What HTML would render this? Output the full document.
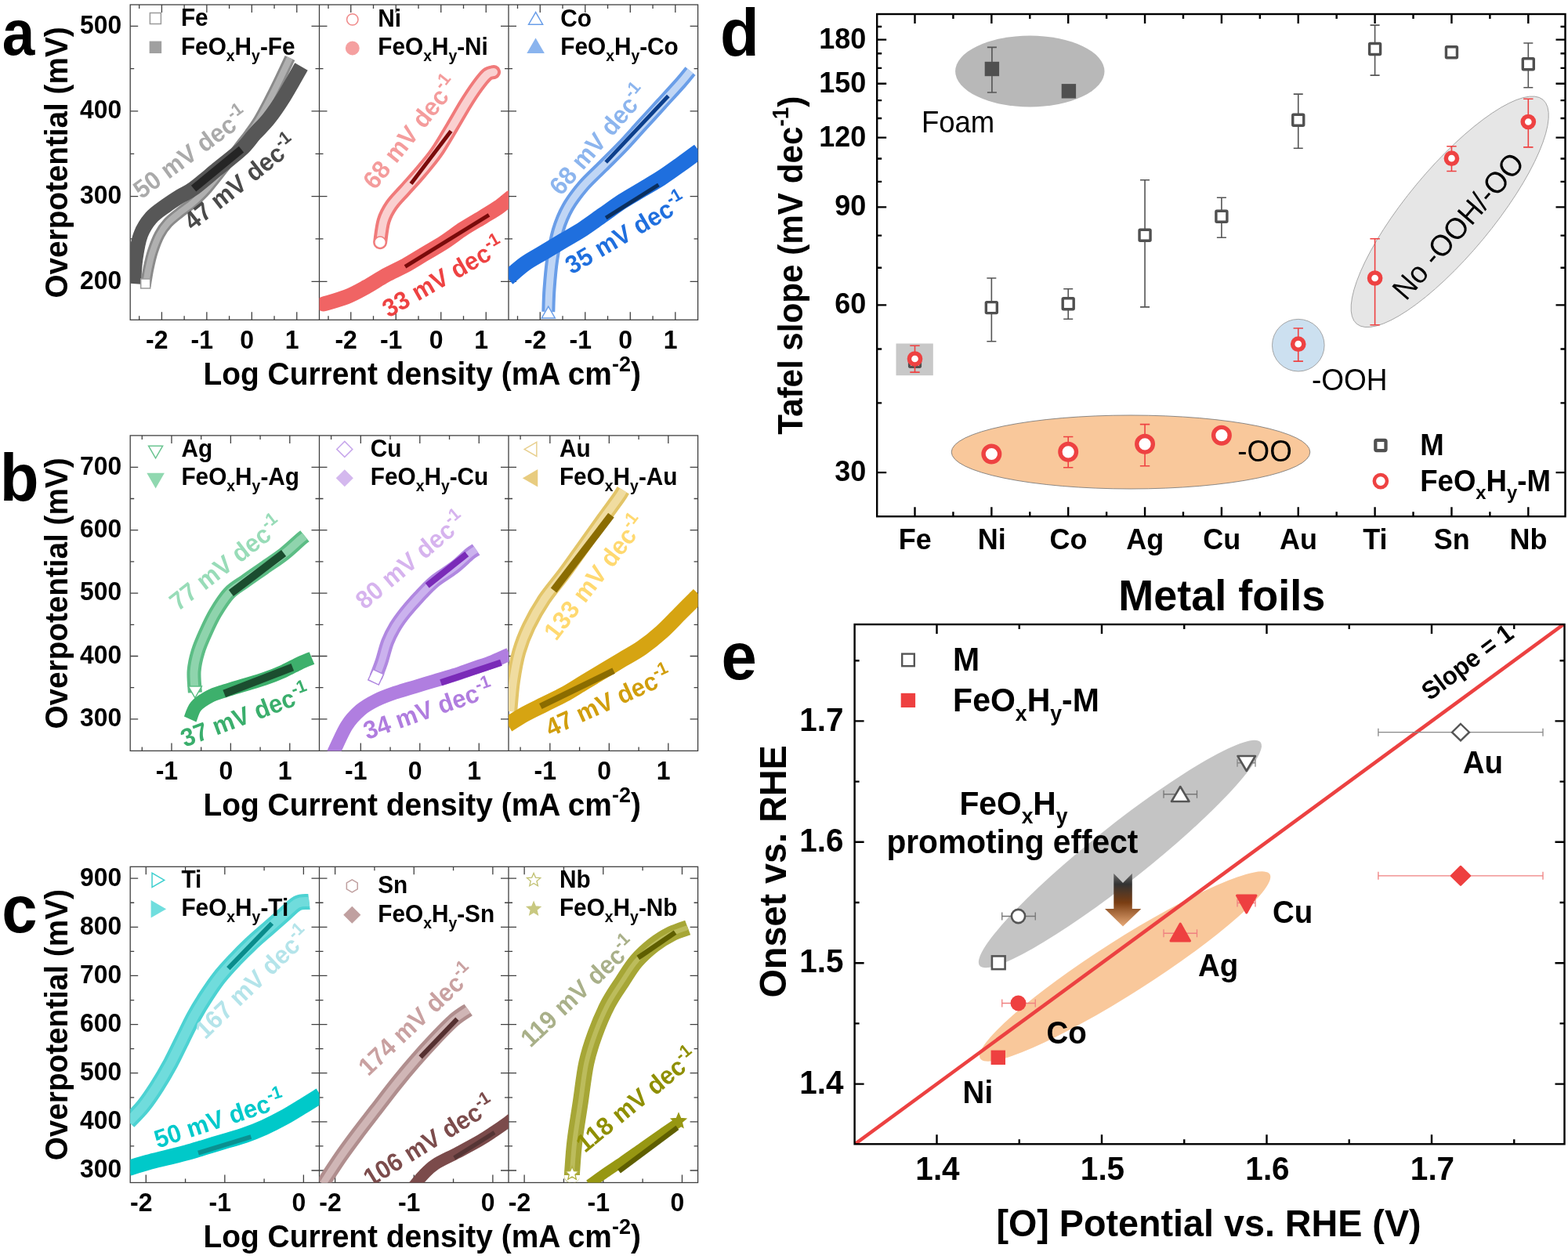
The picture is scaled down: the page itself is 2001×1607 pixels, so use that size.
<!DOCTYPE html>
<html><head><meta charset="utf-8"><style>
html,body{margin:0;padding:0;background:#fff;}
svg{display:block;font-family:'Liberation Sans', Arial, Helvetica, sans-serif;}
</style></head><body>
<svg xmlns="http://www.w3.org/2000/svg" width="2001" height="1607" viewBox="0 0 2001 1607">
<defs><clipPath id="c00"><rect x="166.2" y="6" width="241.3" height="402.3"/></clipPath><clipPath id="c01"><rect x="407.5" y="6" width="241.5" height="402.3"/></clipPath><clipPath id="c02"><rect x="649" y="6" width="241.6" height="402.3"/></clipPath><clipPath id="c10"><rect x="166.2" y="555.9" width="241.3" height="402.5"/></clipPath><clipPath id="c11"><rect x="407.5" y="555.9" width="241.5" height="402.5"/></clipPath><clipPath id="c12"><rect x="649" y="555.9" width="241.6" height="402.5"/></clipPath><clipPath id="c20"><rect x="166.2" y="1106.3" width="241.3" height="403.2"/></clipPath><clipPath id="c21"><rect x="407.5" y="1106.3" width="241.5" height="403.2"/></clipPath><clipPath id="c22"><rect x="649" y="1106.3" width="241.6" height="403.2"/></clipPath></defs>
<rect width="2001" height="1607" fill="#fff"/>
<rect x="166.2" y="6" width="724.4" height="402.3" fill="none" stroke="#404040" stroke-width="1.3"/>
<line x1="407.5" y1="6" x2="407.5" y2="408.3" stroke="#404040" stroke-width="1.3"/>
<line x1="649" y1="6" x2="649" y2="408.3" stroke="#404040" stroke-width="1.3"/>
<path d="M166.2,359.28L176.2,359.28M407.5,359.28L397.5,359.28M166.2,250.62L176.2,250.62M407.5,250.62L397.5,250.62M166.2,141.96L176.2,141.96M407.5,141.96L397.5,141.96M166.2,33.3L176.2,33.3M407.5,33.3L397.5,33.3M166.2,304.95L171.2,304.95M407.5,304.95L402.5,304.95M166.2,196.29L171.2,196.29M407.5,196.29L402.5,196.29M166.2,87.63L171.2,87.63M407.5,87.63L402.5,87.63M177.69,408.3L177.69,403.3M177.69,6L177.69,11M206.42,408.3L206.42,398.3M206.42,6L206.42,16M235.14,408.3L235.14,403.3M235.14,6L235.14,11M263.87,408.3L263.87,398.3M263.87,6L263.87,16M292.6,408.3L292.6,403.3M292.6,6L292.6,11M321.32,408.3L321.32,398.3M321.32,6L321.32,16M350.05,408.3L350.05,403.3M350.05,6L350.05,11M378.77,408.3L378.77,398.3M378.77,6L378.77,16M407.5,359.28L417.5,359.28M649,359.28L639,359.28M407.5,250.62L417.5,250.62M649,250.62L639,250.62M407.5,141.96L417.5,141.96M649,141.96L639,141.96M407.5,33.3L417.5,33.3M649,33.3L639,33.3M407.5,304.95L412.5,304.95M649,304.95L644,304.95M407.5,196.29L412.5,196.29M649,196.29L644,196.29M407.5,87.63L412.5,87.63M649,87.63L644,87.63M419,408.3L419,403.3M419,6L419,11M447.75,408.3L447.75,398.3M447.75,6L447.75,16M476.5,408.3L476.5,403.3M476.5,6L476.5,11M505.25,408.3L505.25,398.3M505.25,6L505.25,16M534,408.3L534,403.3M534,6L534,11M562.75,408.3L562.75,398.3M562.75,6L562.75,16M591.5,408.3L591.5,403.3M591.5,6L591.5,11M620.25,408.3L620.25,398.3M620.25,6L620.25,16M649,359.28L659,359.28M890.6,359.28L880.6,359.28M649,250.62L659,250.62M890.6,250.62L880.6,250.62M649,141.96L659,141.96M890.6,141.96L880.6,141.96M649,33.3L659,33.3M890.6,33.3L880.6,33.3M649,304.95L654,304.95M890.6,304.95L885.6,304.95M649,196.29L654,196.29M890.6,196.29L885.6,196.29M649,87.63L654,87.63M890.6,87.63L885.6,87.63M660.5,408.3L660.5,403.3M660.5,6L660.5,11M689.27,408.3L689.27,398.3M689.27,6L689.27,16M718.03,408.3L718.03,403.3M718.03,6L718.03,11M746.79,408.3L746.79,398.3M746.79,6L746.79,16M775.55,408.3L775.55,403.3M775.55,6L775.55,11M804.31,408.3L804.31,398.3M804.31,6L804.31,16M833.08,408.3L833.08,403.3M833.08,6L833.08,11M861.84,408.3L861.84,398.3M861.84,6L861.84,16" stroke="#404040" stroke-width="1.3" fill="none"/>
<text transform="translate(155.1 368.58) scale(1 1.04)" font-size="31.8" fill="#000" text-anchor="end" font-weight="bold">200</text>
<text transform="translate(155.1 259.92) scale(1 1.04)" font-size="31.8" fill="#000" text-anchor="end" font-weight="bold">300</text>
<text transform="translate(155.1 151.26) scale(1 1.04)" font-size="31.8" fill="#000" text-anchor="end" font-weight="bold">400</text>
<text transform="translate(155.1 42.6) scale(1 1.04)" font-size="31.8" fill="#000" text-anchor="end" font-weight="bold">500</text>
<text transform="translate(200.32 444.7) scale(1 1.04)" font-size="32" fill="#000" text-anchor="middle" font-weight="bold">-2</text>
<text transform="translate(257.77 444.7) scale(1 1.04)" font-size="32" fill="#000" text-anchor="middle" font-weight="bold">-1</text>
<text transform="translate(315.22 444.7) scale(1 1.04)" font-size="32" fill="#000" text-anchor="middle" font-weight="bold">0</text>
<text transform="translate(372.67 444.7) scale(1 1.04)" font-size="32" fill="#000" text-anchor="middle" font-weight="bold">1</text>
<text transform="translate(441.65 444.7) scale(1 1.04)" font-size="32" fill="#000" text-anchor="middle" font-weight="bold">-2</text>
<text transform="translate(499.15 444.7) scale(1 1.04)" font-size="32" fill="#000" text-anchor="middle" font-weight="bold">-1</text>
<text transform="translate(556.65 444.7) scale(1 1.04)" font-size="32" fill="#000" text-anchor="middle" font-weight="bold">0</text>
<text transform="translate(614.15 444.7) scale(1 1.04)" font-size="32" fill="#000" text-anchor="middle" font-weight="bold">1</text>
<text transform="translate(683.17 444.7) scale(1 1.04)" font-size="32" fill="#000" text-anchor="middle" font-weight="bold">-2</text>
<text transform="translate(740.69 444.7) scale(1 1.04)" font-size="32" fill="#000" text-anchor="middle" font-weight="bold">-1</text>
<text transform="translate(798.21 444.7) scale(1 1.04)" font-size="32" fill="#000" text-anchor="middle" font-weight="bold">0</text>
<text transform="translate(855.74 444.7) scale(1 1.04)" font-size="32" fill="#000" text-anchor="middle" font-weight="bold">1</text>
<text transform="translate(86.1 207.45) rotate(-90) scale(1 1.04)" font-size="38.7" fill="#000" text-anchor="middle" font-weight="bold">Overpotential (mV)</text>
<text transform="translate(259.5 490.8) scale(1 1.04)" font-size="38.9" fill="#000" text-anchor="start" font-weight="bold">Log Current density (mA cm<tspan font-size="27" dy="-16">-2</tspan><tspan dy="16">)</tspan></text>
<rect x="166.2" y="555.9" width="724.4" height="402.5" fill="none" stroke="#404040" stroke-width="1.3"/>
<line x1="407.5" y1="555.9" x2="407.5" y2="958.4" stroke="#404040" stroke-width="1.3"/>
<line x1="649" y1="555.9" x2="649" y2="958.4" stroke="#404040" stroke-width="1.3"/>
<path d="M166.2,917.9L176.2,917.9M407.5,917.9L397.5,917.9M166.2,837.5L176.2,837.5M407.5,837.5L397.5,837.5M166.2,757.1L176.2,757.1M407.5,757.1L397.5,757.1M166.2,676.7L176.2,676.7M407.5,676.7L397.5,676.7M166.2,596.3L176.2,596.3M407.5,596.3L397.5,596.3M166.2,877.7L171.2,877.7M407.5,877.7L402.5,877.7M166.2,797.3L171.2,797.3M407.5,797.3L402.5,797.3M166.2,716.9L171.2,716.9M407.5,716.9L402.5,716.9M166.2,636.5L171.2,636.5M407.5,636.5L402.5,636.5M181.28,958.4L181.28,953.4M181.28,555.9L181.28,560.9M218.98,958.4L218.98,948.4M218.98,555.9L218.98,565.9M256.69,958.4L256.69,953.4M256.69,555.9L256.69,560.9M294.39,958.4L294.39,948.4M294.39,555.9L294.39,565.9M332.09,958.4L332.09,953.4M332.09,555.9L332.09,560.9M369.8,958.4L369.8,948.4M369.8,555.9L369.8,565.9M407.5,917.9L417.5,917.9M649,917.9L639,917.9M407.5,837.5L417.5,837.5M649,837.5L639,837.5M407.5,757.1L417.5,757.1M649,757.1L639,757.1M407.5,676.7L417.5,676.7M649,676.7L639,676.7M407.5,596.3L417.5,596.3M649,596.3L639,596.3M407.5,877.7L412.5,877.7M649,877.7L644,877.7M407.5,797.3L412.5,797.3M649,797.3L644,797.3M407.5,716.9L412.5,716.9M649,716.9L644,716.9M407.5,636.5L412.5,636.5M649,636.5L644,636.5M422.59,958.4L422.59,953.4M422.59,555.9L422.59,560.9M460.33,958.4L460.33,948.4M460.33,555.9L460.33,565.9M498.06,958.4L498.06,953.4M498.06,555.9L498.06,560.9M535.8,958.4L535.8,948.4M535.8,555.9L535.8,565.9M573.53,958.4L573.53,953.4M573.53,555.9L573.53,560.9M611.27,958.4L611.27,948.4M611.27,555.9L611.27,565.9M649,917.9L659,917.9M890.6,917.9L880.6,917.9M649,837.5L659,837.5M890.6,837.5L880.6,837.5M649,757.1L659,757.1M890.6,757.1L880.6,757.1M649,676.7L659,676.7M890.6,676.7L880.6,676.7M649,596.3L659,596.3M890.6,596.3L880.6,596.3M649,877.7L654,877.7M890.6,877.7L885.6,877.7M649,797.3L654,797.3M890.6,797.3L885.6,797.3M649,716.9L654,716.9M890.6,716.9L885.6,716.9M649,636.5L654,636.5M890.6,636.5L885.6,636.5M664.1,958.4L664.1,953.4M664.1,555.9L664.1,560.9M701.85,958.4L701.85,948.4M701.85,555.9L701.85,565.9M739.6,958.4L739.6,953.4M739.6,555.9L739.6,560.9M777.35,958.4L777.35,948.4M777.35,555.9L777.35,565.9M815.1,958.4L815.1,953.4M815.1,555.9L815.1,560.9M852.85,958.4L852.85,948.4M852.85,555.9L852.85,565.9" stroke="#404040" stroke-width="1.3" fill="none"/>
<text transform="translate(155.1 927.2) scale(1 1.04)" font-size="31.8" fill="#000" text-anchor="end" font-weight="bold">300</text>
<text transform="translate(155.1 846.8) scale(1 1.04)" font-size="31.8" fill="#000" text-anchor="end" font-weight="bold">400</text>
<text transform="translate(155.1 766.4) scale(1 1.04)" font-size="31.8" fill="#000" text-anchor="end" font-weight="bold">500</text>
<text transform="translate(155.1 686) scale(1 1.04)" font-size="31.8" fill="#000" text-anchor="end" font-weight="bold">600</text>
<text transform="translate(155.1 605.6) scale(1 1.04)" font-size="31.8" fill="#000" text-anchor="end" font-weight="bold">700</text>
<text transform="translate(212.88 994.8) scale(1 1.04)" font-size="32" fill="#000" text-anchor="middle" font-weight="bold">-1</text>
<text transform="translate(288.29 994.8) scale(1 1.04)" font-size="32" fill="#000" text-anchor="middle" font-weight="bold">0</text>
<text transform="translate(363.7 994.8) scale(1 1.04)" font-size="32" fill="#000" text-anchor="middle" font-weight="bold">1</text>
<text transform="translate(454.23 994.8) scale(1 1.04)" font-size="32" fill="#000" text-anchor="middle" font-weight="bold">-1</text>
<text transform="translate(529.7 994.8) scale(1 1.04)" font-size="32" fill="#000" text-anchor="middle" font-weight="bold">0</text>
<text transform="translate(605.17 994.8) scale(1 1.04)" font-size="32" fill="#000" text-anchor="middle" font-weight="bold">1</text>
<text transform="translate(695.75 994.8) scale(1 1.04)" font-size="32" fill="#000" text-anchor="middle" font-weight="bold">-1</text>
<text transform="translate(771.25 994.8) scale(1 1.04)" font-size="32" fill="#000" text-anchor="middle" font-weight="bold">0</text>
<text transform="translate(846.75 994.8) scale(1 1.04)" font-size="32" fill="#000" text-anchor="middle" font-weight="bold">1</text>
<text transform="translate(86.1 757.45) rotate(-90) scale(1 1.04)" font-size="38.7" fill="#000" text-anchor="middle" font-weight="bold">Overpotential (mV)</text>
<text transform="translate(259.5 1040.9) scale(1 1.04)" font-size="38.9" fill="#000" text-anchor="start" font-weight="bold">Log Current density (mA cm<tspan font-size="27" dy="-16">-2</tspan><tspan dy="16">)</tspan></text>
<rect x="166.2" y="1106.3" width="724.4" height="403.2" fill="none" stroke="#404040" stroke-width="1.3"/>
<line x1="407.5" y1="1106.3" x2="407.5" y2="1509.5" stroke="#404040" stroke-width="1.3"/>
<line x1="649" y1="1106.3" x2="649" y2="1509.5" stroke="#404040" stroke-width="1.3"/>
<path d="M166.2,1493.98L176.2,1493.98M407.5,1493.98L397.5,1493.98M166.2,1431.85L176.2,1431.85M407.5,1431.85L397.5,1431.85M166.2,1369.72L176.2,1369.72M407.5,1369.72L397.5,1369.72M166.2,1307.59L176.2,1307.59M407.5,1307.59L397.5,1307.59M166.2,1245.46L176.2,1245.46M407.5,1245.46L397.5,1245.46M166.2,1183.33L176.2,1183.33M407.5,1183.33L397.5,1183.33M166.2,1121.2L176.2,1121.2M407.5,1121.2L397.5,1121.2M166.2,1462.91L171.2,1462.91M407.5,1462.91L402.5,1462.91M166.2,1400.79L171.2,1400.79M407.5,1400.79L402.5,1400.79M166.2,1338.65L171.2,1338.65M407.5,1338.65L402.5,1338.65M166.2,1276.53L171.2,1276.53M407.5,1276.53L402.5,1276.53M166.2,1214.39L171.2,1214.39M407.5,1214.39L402.5,1214.39M166.2,1152.27L171.2,1152.27M407.5,1152.27L402.5,1152.27M186.31,1509.5L186.31,1499.5M186.31,1106.3L186.31,1116.3M236.58,1509.5L236.58,1504.5M236.58,1106.3L236.58,1111.3M286.85,1509.5L286.85,1499.5M286.85,1106.3L286.85,1116.3M337.12,1509.5L337.12,1504.5M337.12,1106.3L337.12,1111.3M387.39,1509.5L387.39,1499.5M387.39,1106.3L387.39,1116.3M407.5,1493.98L417.5,1493.98M649,1493.98L639,1493.98M407.5,1431.85L417.5,1431.85M649,1431.85L639,1431.85M407.5,1369.72L417.5,1369.72M649,1369.72L639,1369.72M407.5,1307.59L417.5,1307.59M649,1307.59L639,1307.59M407.5,1245.46L417.5,1245.46M649,1245.46L639,1245.46M407.5,1183.33L417.5,1183.33M649,1183.33L639,1183.33M407.5,1121.2L417.5,1121.2M649,1121.2L639,1121.2M407.5,1462.91L412.5,1462.91M649,1462.91L644,1462.91M407.5,1400.79L412.5,1400.79M649,1400.79L644,1400.79M407.5,1338.65L412.5,1338.65M649,1338.65L644,1338.65M407.5,1276.53L412.5,1276.53M649,1276.53L644,1276.53M407.5,1214.39L412.5,1214.39M649,1214.39L644,1214.39M407.5,1152.27L412.5,1152.27M649,1152.27L644,1152.27M427.62,1509.5L427.62,1499.5M427.62,1106.3L427.62,1116.3M477.94,1509.5L477.94,1504.5M477.94,1106.3L477.94,1111.3M528.25,1509.5L528.25,1499.5M528.25,1106.3L528.25,1116.3M578.56,1509.5L578.56,1504.5M578.56,1106.3L578.56,1111.3M628.88,1509.5L628.88,1499.5M628.88,1106.3L628.88,1116.3M649,1493.98L659,1493.98M890.6,1493.98L880.6,1493.98M649,1431.85L659,1431.85M890.6,1431.85L880.6,1431.85M649,1369.72L659,1369.72M890.6,1369.72L880.6,1369.72M649,1307.59L659,1307.59M890.6,1307.59L880.6,1307.59M649,1245.46L659,1245.46M890.6,1245.46L880.6,1245.46M649,1183.33L659,1183.33M890.6,1183.33L880.6,1183.33M649,1121.2L659,1121.2M890.6,1121.2L880.6,1121.2M649,1462.91L654,1462.91M890.6,1462.91L885.6,1462.91M649,1400.79L654,1400.79M890.6,1400.79L885.6,1400.79M649,1338.65L654,1338.65M890.6,1338.65L885.6,1338.65M649,1276.53L654,1276.53M890.6,1276.53L885.6,1276.53M649,1214.39L654,1214.39M890.6,1214.39L885.6,1214.39M649,1152.27L654,1152.27M890.6,1152.27L885.6,1152.27M669.13,1509.5L669.13,1499.5M669.13,1106.3L669.13,1116.3M719.47,1509.5L719.47,1504.5M719.47,1106.3L719.47,1111.3M769.8,1509.5L769.8,1499.5M769.8,1106.3L769.8,1116.3M820.13,1509.5L820.13,1504.5M820.13,1106.3L820.13,1111.3M870.47,1509.5L870.47,1499.5M870.47,1106.3L870.47,1116.3" stroke="#404040" stroke-width="1.3" fill="none"/>
<text transform="translate(155.1 1503.28) scale(1 1.04)" font-size="31.8" fill="#000" text-anchor="end" font-weight="bold">300</text>
<text transform="translate(155.1 1441.15) scale(1 1.04)" font-size="31.8" fill="#000" text-anchor="end" font-weight="bold">400</text>
<text transform="translate(155.1 1379.02) scale(1 1.04)" font-size="31.8" fill="#000" text-anchor="end" font-weight="bold">500</text>
<text transform="translate(155.1 1316.89) scale(1 1.04)" font-size="31.8" fill="#000" text-anchor="end" font-weight="bold">600</text>
<text transform="translate(155.1 1254.76) scale(1 1.04)" font-size="31.8" fill="#000" text-anchor="end" font-weight="bold">700</text>
<text transform="translate(155.1 1192.63) scale(1 1.04)" font-size="31.8" fill="#000" text-anchor="end" font-weight="bold">800</text>
<text transform="translate(155.1 1130.5) scale(1 1.04)" font-size="31.8" fill="#000" text-anchor="end" font-weight="bold">900</text>
<text transform="translate(180.21 1545.9) scale(1 1.04)" font-size="32" fill="#000" text-anchor="middle" font-weight="bold">-2</text>
<text transform="translate(280.75 1545.9) scale(1 1.04)" font-size="32" fill="#000" text-anchor="middle" font-weight="bold">-1</text>
<text transform="translate(381.29 1545.9) scale(1 1.04)" font-size="32" fill="#000" text-anchor="middle" font-weight="bold">0</text>
<text transform="translate(421.52 1545.9) scale(1 1.04)" font-size="32" fill="#000" text-anchor="middle" font-weight="bold">-2</text>
<text transform="translate(522.15 1545.9) scale(1 1.04)" font-size="32" fill="#000" text-anchor="middle" font-weight="bold">-1</text>
<text transform="translate(622.77 1545.9) scale(1 1.04)" font-size="32" fill="#000" text-anchor="middle" font-weight="bold">0</text>
<text transform="translate(663.03 1545.9) scale(1 1.04)" font-size="32" fill="#000" text-anchor="middle" font-weight="bold">-2</text>
<text transform="translate(763.7 1545.9) scale(1 1.04)" font-size="32" fill="#000" text-anchor="middle" font-weight="bold">-1</text>
<text transform="translate(864.37 1545.9) scale(1 1.04)" font-size="32" fill="#000" text-anchor="middle" font-weight="bold">0</text>
<text transform="translate(86.1 1308.2) rotate(-90) scale(1 1.04)" font-size="38.7" fill="#000" text-anchor="middle" font-weight="bold">Overpotential (mV)</text>
<text transform="translate(259.5 1592) scale(1 1.04)" font-size="38.9" fill="#000" text-anchor="start" font-weight="bold">Log Current density (mA cm<tspan font-size="27" dy="-16">-2</tspan><tspan dy="16">)</tspan></text>
<text font-size="81.5" font-weight="bold" transform="translate(2.8 69.8) scale(0.917 1)">a</text>
<text transform="translate(-0.3 639) scale(1 1.04)" font-size="81.5" fill="#000" text-anchor="start" font-weight="bold">b</text>
<text transform="translate(2.2 1190) scale(1 1.04)" font-size="81.5" fill="#000" text-anchor="start" font-weight="bold">c</text>
<text transform="translate(919.1 70.7) scale(1 1.04)" font-size="81.5" fill="#000" text-anchor="start" font-weight="bold">d</text>
<text transform="translate(920.6 866.9) scale(1 1.04)" font-size="81.5" fill="#000" text-anchor="start" font-weight="bold">e</text>
<g clip-path="url(#c00)">
<path d="M185.7,365 C186.32,361.35 187.88,350.38 189.4,343.1 C190.92,335.82 192.43,328.57 194.8,321.3 C197.17,314.03 200.33,305.67 203.6,299.5 C206.87,293.33 210.05,289.02 214.4,284.3 C218.75,279.58 224.27,275.58 229.7,271.2 C235.13,266.82 241.12,263.2 247,258 C252.88,252.8 258.67,247.17 265,240 C271.33,232.83 278.33,223.67 285,215 C291.67,206.33 299.5,195.33 305,188 C310.5,180.67 313.85,176.73 318,171 C322.15,165.27 325.75,160.48 329.9,153.6 C334.05,146.72 338.55,138.03 342.9,129.7 C347.25,121.37 351.48,112.88 356,103.6 C360.52,94.32 367.67,78.93 370,74" stroke="#8a8a8a" stroke-width="14" fill="none" stroke-linejoin="round" stroke-linecap="butt"/>
<path d="M185.7,365 C186.32,361.35 187.88,350.38 189.4,343.1 C190.92,335.82 192.43,328.57 194.8,321.3 C197.17,314.03 200.33,305.67 203.6,299.5 C206.87,293.33 210.05,289.02 214.4,284.3 C218.75,279.58 224.27,275.58 229.7,271.2 C235.13,266.82 241.12,263.2 247,258 C252.88,252.8 258.67,247.17 265,240 C271.33,232.83 278.33,223.67 285,215 C291.67,206.33 299.5,195.33 305,188 C310.5,180.67 313.85,176.73 318,171 C322.15,165.27 325.75,160.48 329.9,153.6 C334.05,146.72 338.55,138.03 342.9,129.7 C347.25,121.37 351.48,112.88 356,103.6 C360.52,94.32 367.67,78.93 370,74" stroke="#b0b0b0" stroke-width="8" fill="none" stroke-linejoin="round" stroke-linecap="butt"/>
<path d="M170.5,362 C170.92,356.67 171.48,340.42 173,330 C174.52,319.58 176.32,308.17 179.6,299.5 C182.88,290.83 187.3,284.17 192.7,278 C198.1,271.83 205.78,267.08 212,262.5 C218.22,257.92 224.17,254.13 230,250.5 C235.83,246.87 239.08,246.5 247,240.7 C254.92,234.9 267.33,224.03 277.5,215.7 C287.67,207.37 300.08,198.15 308,190.7 C315.92,183.25 319.17,177.53 325,171 C330.83,164.47 336.75,159.47 343,151.5 C349.25,143.53 355.58,134.28 362.5,123.2 C369.42,112.12 380.83,91.37 384.5,85" stroke="#575757" stroke-width="19" fill="none" stroke-linejoin="round" stroke-linecap="butt"/>
<rect x="179.7" y="356" width="12" height="12" fill="#fff" stroke="#9a9a9a" stroke-width="1.5"/>
<line x1="247.1" y1="240.7" x2="308" y2="190.7" stroke="#252525" stroke-width="10" stroke-linecap="butt"/>
</g>
<g clip-path="url(#c01)">
<path d="M485.1,309.2 C485.85,304.63 487.18,289.68 489.6,281.8 C492.02,273.92 495.03,268.53 499.6,261.9 C504.17,255.27 510.78,249.05 517,242 C523.22,234.95 530.27,227.48 536.9,219.6 C543.53,211.72 550.17,204.25 556.8,194.7 C563.43,185.15 570.47,172.67 576.7,162.3 C582.93,151.93 588.8,141.22 594.2,132.5 C599.6,123.78 604.55,116.23 609.1,110 C613.65,103.77 618.02,98.1 621.5,95.1 C624.98,92.1 628.58,92.52 630,92" stroke="#f07a7a" stroke-width="18" fill="none" stroke-linejoin="round" stroke-linecap="round"/>
<path d="M485.1,309.2 C485.85,304.63 487.18,289.68 489.6,281.8 C492.02,273.92 495.03,268.53 499.6,261.9 C504.17,255.27 510.78,249.05 517,242 C523.22,234.95 530.27,227.48 536.9,219.6 C543.53,211.72 550.17,204.25 556.8,194.7 C563.43,185.15 570.47,172.67 576.7,162.3 C582.93,151.93 588.8,141.22 594.2,132.5 C599.6,123.78 604.55,116.23 609.1,110 C613.65,103.77 618.02,98.1 621.5,95.1 C624.98,92.1 628.58,92.52 630,92" stroke="#fad0d0" stroke-width="10" fill="none" stroke-linejoin="round" stroke-linecap="round"/>
<circle cx="485.1" cy="309.2" r="7.2" fill="#fff" stroke="#f08080" stroke-width="1.5"/>
<path d="M413,388 C417.88,386.48 433.27,382.5 442.3,378.9 C451.33,375.3 458.9,370.97 467.2,366.4 C475.5,361.83 483.8,356.07 492.1,351.5 C500.4,346.93 508.7,343.57 517,339 C525.3,334.43 533.6,329.07 541.9,324.1 C550.2,319.13 558.5,314.58 566.8,309.2 C575.1,303.82 583.4,297.2 591.7,291.8 C600,286.4 609.13,281.37 616.6,276.8 C624.07,272.23 630.6,268.53 636.5,264.4 C642.4,260.27 649.42,254.07 652,252" stroke="#f06464" stroke-width="19" fill="none" stroke-linejoin="round" stroke-linecap="round"/>
<line x1="524.5" y1="234.5" x2="575.5" y2="167.3" stroke="#7a0a0a" stroke-width="5" stroke-linecap="butt"/>
<line x1="517" y1="340.3" x2="624" y2="274.3" stroke="#7a0a0a" stroke-width="5" stroke-linecap="butt"/>
</g>
<g clip-path="url(#c02)">
<path d="M699.8,398 C700,393.15 700.18,379.97 701,368.9 C701.82,357.83 702.83,344.05 704.7,331.6 C706.57,319.15 708.87,305.4 712.2,294.2 C715.53,283 719.3,273.93 724.7,264.4 C730.1,254.87 737.13,245.72 744.6,237 C752.07,228.28 761.22,220.4 769.5,212.1 C777.78,203.8 786.02,195.92 794.3,187.2 C802.58,178.48 810.9,168.92 819.2,159.8 C827.5,150.68 835.8,141.62 844.1,132.5 C852.4,123.38 862.85,112.08 869,105.1 C875.15,98.12 879,93.02 881,90.6" stroke="#6a9ee8" stroke-width="17" fill="none" stroke-linejoin="round" stroke-linecap="butt"/>
<path d="M699.8,398 C700,393.15 700.18,379.97 701,368.9 C701.82,357.83 702.83,344.05 704.7,331.6 C706.57,319.15 708.87,305.4 712.2,294.2 C715.53,283 719.3,273.93 724.7,264.4 C730.1,254.87 737.13,245.72 744.6,237 C752.07,228.28 761.22,220.4 769.5,212.1 C777.78,203.8 786.02,195.92 794.3,187.2 C802.58,178.48 810.9,168.92 819.2,159.8 C827.5,150.68 835.8,141.62 844.1,132.5 C852.4,123.38 862.85,112.08 869,105.1 C875.15,98.12 879,93.02 881,90.6" stroke="#c0d6f5" stroke-width="9" fill="none" stroke-linejoin="round" stroke-linecap="butt"/>
<path d="M699.8,391.17 L691.3,405.89 L708.3,405.89Z" fill="#fff" stroke="#6a9ee8" stroke-width="1.5"/>
<path d="M648,355 C651.65,351.93 662.1,342.17 669.9,336.6 C677.7,331.03 686.5,326.58 694.8,321.6 C703.1,316.62 711.4,311.67 719.7,306.7 C728,301.73 736.3,297.2 744.6,291.8 C752.9,286.4 761.22,280.12 769.5,274.3 C777.78,268.48 786.02,262.28 794.3,256.9 C802.58,251.52 810.9,246.98 819.2,242 C827.5,237.02 835.8,232.4 844.1,227 C852.4,221.6 861.02,215.32 869,209.6 C876.98,203.88 888.17,195.52 892,192.7" stroke="#1f6fde" stroke-width="20" fill="none" stroke-linejoin="round" stroke-linecap="butt"/>
<line x1="773.2" y1="207.1" x2="852.8" y2="122.5" stroke="#0c3f8c" stroke-width="5" stroke-linecap="butt"/>
<line x1="773.2" y1="278.1" x2="840.4" y2="235.8" stroke="#0a2f5f" stroke-width="5" stroke-linecap="butt"/>
</g>
<g clip-path="url(#c10)">
<path d="M248.9,884 C248.68,879.45 246.98,865.4 247.6,856.7 C248.22,848 250.1,840.1 252.6,831.8 C255.1,823.5 258.87,815.2 262.6,806.9 C266.33,798.6 270.03,790.3 275,782 C279.97,773.7 286.18,763.73 292.4,757.1 C298.62,750.47 304.83,747.58 312.3,742.2 C319.77,736.82 328.9,730.62 337.2,724.8 C345.5,718.98 354.63,713.12 362.1,707.3 C369.57,701.48 377.52,693.75 382,689.9 C386.48,686.05 387.83,685.15 389,684.2" stroke="#5cbd85" stroke-width="18" fill="none" stroke-linejoin="round" stroke-linecap="butt"/>
<path d="M248.9,884 C248.68,879.45 246.98,865.4 247.6,856.7 C248.22,848 250.1,840.1 252.6,831.8 C255.1,823.5 258.87,815.2 262.6,806.9 C266.33,798.6 270.03,790.3 275,782 C279.97,773.7 286.18,763.73 292.4,757.1 C298.62,750.47 304.83,747.58 312.3,742.2 C319.77,736.82 328.9,730.62 337.2,724.8 C345.5,718.98 354.63,713.12 362.1,707.3 C369.57,701.48 377.52,693.75 382,689.9 C386.48,686.05 387.83,685.15 389,684.2" stroke="#8fd4ad" stroke-width="10" fill="none" stroke-linejoin="round" stroke-linecap="butt"/>
<path d="M248.9,890.83 L240.4,876.11 L257.4,876.11Z" fill="#fff" stroke="#5cbd85" stroke-width="1.5"/>
<path d="M242.7,918 C243.93,915.25 245.97,906.33 250.1,901.5 C254.23,896.67 261.27,892.32 267.5,889 C273.73,885.68 280.03,884.08 287.5,881.6 C294.97,879.12 304.02,876.6 312.3,874.1 C320.58,871.6 328.9,869.5 337.2,866.6 C345.5,863.7 354.63,860.02 362.1,856.7 C369.57,853.38 376.02,849.48 382,846.7 C387.98,843.92 395.33,841.12 398,840" stroke="#3db06c" stroke-width="17" fill="none" stroke-linejoin="round" stroke-linecap="butt"/>
<line x1="294.9" y1="757.1" x2="362.1" y2="706.1" stroke="#1b4d2f" stroke-width="10" stroke-linecap="butt"/>
<line x1="286.2" y1="885.3" x2="373.3" y2="851.7" stroke="#1b4d2f" stroke-width="10" stroke-linecap="butt"/>
</g>
<g clip-path="url(#c11)">
<path d="M479.7,864.2 C480.93,860.88 484.62,851.77 487.1,844.3 C489.58,836.83 491.68,826.88 494.6,819.4 C497.52,811.92 500.87,805.63 504.6,799.4 C508.33,793.17 512.03,788.22 517,782 C521.97,775.78 528.18,768.73 534.4,762.1 C540.62,755.47 546.83,748.42 554.3,742.2 C561.77,735.98 571.73,730.62 579.2,724.8 C586.67,718.98 594.37,711.2 599.1,707.3 C603.83,703.4 606.18,702.38 607.6,701.4" stroke="#b088e0" stroke-width="17" fill="none" stroke-linejoin="round" stroke-linecap="butt"/>
<path d="M479.7,864.2 C480.93,860.88 484.62,851.77 487.1,844.3 C489.58,836.83 491.68,826.88 494.6,819.4 C497.52,811.92 500.87,805.63 504.6,799.4 C508.33,793.17 512.03,788.22 517,782 C521.97,775.78 528.18,768.73 534.4,762.1 C540.62,755.47 546.83,748.42 554.3,742.2 C561.77,735.98 571.73,730.62 579.2,724.8 C586.67,718.98 594.37,711.2 599.1,707.3 C603.83,703.4 606.18,702.38 607.6,701.4" stroke="#cbb2ee" stroke-width="9" fill="none" stroke-linejoin="round" stroke-linecap="butt"/>
<path d="M479.7,853.7 L490.2,864.2 L479.7,874.7 L469.2,864.2 Z" fill="#fff" stroke="#b088e0" stroke-width="1.5" transform="rotate(-20 479.7 864.2)"/>
<path d="M425,962 C427.88,956.07 436.5,935.65 442.3,926.4 C448.1,917.15 453.57,911.9 459.8,906.5 C466.03,901.1 472.23,897.73 479.7,894 C487.17,890.27 496.3,887 504.6,884.1 C512.9,881.2 521.22,879.1 529.5,876.6 C537.78,874.1 546.02,871.58 554.3,869.1 C562.58,866.62 570.9,864.38 579.2,861.7 C587.5,859.02 595.8,855.9 604.1,853 C612.4,850.1 621.35,847.3 629,844.3 C636.65,841.3 646.5,836.55 650,835" stroke="#b07ee0" stroke-width="17" fill="none" stroke-linejoin="round" stroke-linecap="butt"/>
<line x1="545.2" y1="747.4" x2="595.7" y2="707.2" stroke="#7a2ab8" stroke-width="8" stroke-linecap="butt"/>
<line x1="562.6" y1="871.3" x2="639.5" y2="845.7" stroke="#7a2ab8" stroke-width="8.5" stroke-linecap="butt"/>
</g>
<g clip-path="url(#c12)">
<path d="M651.2,908 C651.83,901.52 653.13,881.8 655,869.1 C656.87,856.4 659.08,843.42 662.4,831.8 C665.72,820.18 669.5,810.6 674.9,799.4 C680.3,788.2 687.33,775.8 694.8,764.6 C702.27,753.4 711.4,743.4 719.7,732.2 C728,721 736.3,709.02 744.6,697.4 C752.9,685.78 762.03,672.87 769.5,662.5 C776.97,652.13 785.1,641.33 789.4,635.2 C793.7,629.07 794.32,627.28 795.3,625.7" stroke="#e2c468" stroke-width="18" fill="none" stroke-linejoin="round" stroke-linecap="butt"/>
<path d="M651.2,908 C651.83,901.52 653.13,881.8 655,869.1 C656.87,856.4 659.08,843.42 662.4,831.8 C665.72,820.18 669.5,810.6 674.9,799.4 C680.3,788.2 687.33,775.8 694.8,764.6 C702.27,753.4 711.4,743.4 719.7,732.2 C728,721 736.3,709.02 744.6,697.4 C752.9,685.78 762.03,672.87 769.5,662.5 C776.97,652.13 785.1,641.33 789.4,635.2 C793.7,629.07 794.32,627.28 795.3,625.7" stroke="#f0dca0" stroke-width="10" fill="none" stroke-linejoin="round" stroke-linecap="butt"/>
<path d="M648,925 C651.65,922.75 662.1,915.83 669.9,911.5 C677.7,907.17 686.5,903.15 694.8,899 C703.1,894.85 711.4,891.17 719.7,886.6 C728,882.03 736.3,876.58 744.6,871.6 C752.9,866.62 761.22,861.67 769.5,856.7 C777.78,851.73 786.02,846.78 794.3,841.8 C802.58,836.82 810.9,832.62 819.2,826.8 C827.5,820.98 835.8,814.37 844.1,806.9 C852.4,799.43 861.02,789.98 869,782 C876.98,774.02 888.17,762.83 892,759" stroke="#d6a412" stroke-width="20" fill="none" stroke-linejoin="round" stroke-linecap="butt"/>
<line x1="706.6" y1="753.5" x2="779.9" y2="657.7" stroke="#8b6c00" stroke-width="9.5" stroke-linecap="butt"/>
<line x1="689.8" y1="901.5" x2="783.1" y2="856.1" stroke="#8b6c00" stroke-width="8" stroke-linecap="butt"/>
</g>
<g clip-path="url(#c20)">
<path d="M164,1432 C167.15,1428.62 176.85,1419.23 182.9,1411.7 C188.95,1404.17 194.48,1395.93 200.3,1386.8 C206.12,1377.67 212.4,1366.87 217.8,1356.9 C223.2,1346.93 227.73,1336.95 232.7,1327 C237.67,1317.05 242.62,1306.32 247.6,1297.2 C252.58,1288.08 257.2,1280.6 262.6,1272.3 C268,1264 273.78,1255.28 280,1247.4 C286.22,1239.52 293.27,1232.05 299.9,1225 C306.53,1217.95 312.75,1211.73 319.8,1205.1 C326.85,1198.47 335.15,1191.43 342.2,1185.2 C349.25,1178.97 355.87,1173.1 362.1,1167.7 C368.33,1162.3 374.2,1155.58 379.6,1152.8 C385,1150.02 392.02,1151.3 394.5,1151" stroke="#4cd2d2" stroke-width="20" fill="none" stroke-linejoin="round" stroke-linecap="butt"/>
<path d="M164,1432 C167.15,1428.62 176.85,1419.23 182.9,1411.7 C188.95,1404.17 194.48,1395.93 200.3,1386.8 C206.12,1377.67 212.4,1366.87 217.8,1356.9 C223.2,1346.93 227.73,1336.95 232.7,1327 C237.67,1317.05 242.62,1306.32 247.6,1297.2 C252.58,1288.08 257.2,1280.6 262.6,1272.3 C268,1264 273.78,1255.28 280,1247.4 C286.22,1239.52 293.27,1232.05 299.9,1225 C306.53,1217.95 312.75,1211.73 319.8,1205.1 C326.85,1198.47 335.15,1191.43 342.2,1185.2 C349.25,1178.97 355.87,1173.1 362.1,1167.7 C368.33,1162.3 374.2,1155.58 379.6,1152.8 C385,1150.02 392.02,1151.3 394.5,1151" stroke="#70dcdc" stroke-width="12" fill="none" stroke-linejoin="round" stroke-linecap="butt"/>
<path d="M164,1491 C167.98,1489.82 179.77,1486.13 187.9,1483.9 C196.03,1481.67 204.5,1479.68 212.8,1477.6 C221.1,1475.52 229.4,1473.67 237.7,1471.4 C246,1469.13 254.3,1466.48 262.6,1464 C270.9,1461.52 279.22,1459 287.5,1456.5 C295.78,1454 304.02,1451.9 312.3,1449 C320.58,1446.1 328.9,1442.83 337.2,1439.1 C345.5,1435.37 353.8,1431.17 362.1,1426.6 C370.4,1422.03 379.18,1416.47 387,1411.7 C394.82,1406.93 405.33,1400.28 409,1398" stroke="#00c9c9" stroke-width="20" fill="none" stroke-linejoin="round" stroke-linecap="butt"/>
<line x1="291.3" y1="1236.2" x2="347" y2="1178.5" stroke="#0a8c8c" stroke-width="6" stroke-linecap="butt"/>
<line x1="253" y1="1471.7" x2="320.4" y2="1451" stroke="#0a9090" stroke-width="6" stroke-linecap="butt"/>
</g>
<g clip-path="url(#c21)">
<path d="M412,1511 C415.82,1505.23 427.77,1486.73 434.9,1476.4 C442.03,1466.07 447.33,1458.97 454.8,1449 C462.27,1439.03 471.4,1427.38 479.7,1416.6 C488,1405.82 496.3,1394.67 504.6,1384.3 C512.9,1373.93 521.22,1363.95 529.5,1354.4 C537.78,1344.85 546.02,1335.72 554.3,1327 C562.58,1318.28 571.97,1308.43 579.2,1302.1 C586.43,1295.77 594.62,1291.18 597.7,1289" stroke="#b08e8e" stroke-width="18" fill="none" stroke-linejoin="round" stroke-linecap="butt"/>
<path d="M412,1511 C415.82,1505.23 427.77,1486.73 434.9,1476.4 C442.03,1466.07 447.33,1458.97 454.8,1449 C462.27,1439.03 471.4,1427.38 479.7,1416.6 C488,1405.82 496.3,1394.67 504.6,1384.3 C512.9,1373.93 521.22,1363.95 529.5,1354.4 C537.78,1344.85 546.02,1335.72 554.3,1327 C562.58,1318.28 571.97,1308.43 579.2,1302.1 C586.43,1295.77 594.62,1291.18 597.7,1289" stroke="#d0b6b6" stroke-width="9" fill="none" stroke-linejoin="round" stroke-linecap="butt"/>
<path d="M528,1514 C530,1511.67 535.5,1504.6 540,1500 C544.5,1495.4 547.75,1491.15 555,1486.4 C562.25,1481.65 574,1476.57 583.5,1471.5 C593,1466.43 604.25,1460.5 612,1456 C619.75,1451.5 624,1448.5 630,1444.5 C636,1440.5 644.17,1434.75 648,1432 C651.83,1429.25 652.17,1428.67 653,1428" stroke="#7b4b4b" stroke-width="15" fill="none" stroke-linejoin="round" stroke-linecap="butt"/>
<line x1="536.6" y1="1349.4" x2="583.4" y2="1300.6" stroke="#553030" stroke-width="6" stroke-linecap="butt"/>
<line x1="579.7" y1="1477.8" x2="631" y2="1445.5" stroke="#553535" stroke-width="5.5" stroke-linecap="butt"/>
</g>
<g clip-path="url(#c22)">
<path d="M730.1,1500 C730.1,1499.38 729.55,1503.55 730.1,1496.3 C730.65,1489.05 731.62,1471.43 733.4,1456.5 C735.18,1441.57 738.32,1423.3 740.8,1406.7 C743.28,1390.1 745.18,1371.42 748.3,1356.9 C751.42,1342.38 754.93,1332.05 759.5,1319.6 C764.07,1307.15 769.9,1293.4 775.7,1282.2 C781.5,1271 788.28,1261.6 794.3,1252.4 C800.32,1243.2 805.15,1234.73 811.8,1227 C818.45,1219.27 826.73,1211.83 834.2,1206 C841.67,1200.17 849.35,1195.67 856.6,1192 C863.85,1188.33 874.18,1185.33 877.7,1184" stroke="#a6a636" stroke-width="20" fill="none" stroke-linejoin="round" stroke-linecap="butt"/>
<path d="M730.1,1500 C730.1,1499.38 729.55,1503.55 730.1,1496.3 C730.65,1489.05 731.62,1471.43 733.4,1456.5 C735.18,1441.57 738.32,1423.3 740.8,1406.7 C743.28,1390.1 745.18,1371.42 748.3,1356.9 C751.42,1342.38 754.93,1332.05 759.5,1319.6 C764.07,1307.15 769.9,1293.4 775.7,1282.2 C781.5,1271 788.28,1261.6 794.3,1252.4 C800.32,1243.2 805.15,1234.73 811.8,1227 C818.45,1219.27 826.73,1211.83 834.2,1206 C841.67,1200.17 849.35,1195.67 856.6,1192 C863.85,1188.33 874.18,1185.33 877.7,1184" stroke="#bcbc5c" stroke-width="6" fill="none" stroke-linejoin="round" stroke-linecap="butt"/>
<path d="M730.1,1489 L732.48,1494.72 L738.66,1495.22 L733.95,1499.25 L735.39,1505.28 L730.1,1502.05 L724.81,1505.28 L726.25,1499.25 L721.54,1495.22 L727.72,1494.72Z" fill="#fff" stroke="#b0b040" stroke-width="1.3"/>
<path d="M752,1512 C755.33,1509.58 764.95,1502.42 772,1497.5 C779.05,1492.58 786.43,1487.92 794.3,1482.5 C802.17,1477.08 810.9,1470.83 819.2,1465 C827.5,1459.17 836.3,1452.9 844.1,1447.5 C851.9,1442.1 862.35,1435.08 866,1432.6" stroke="#979712" stroke-width="13" fill="none" stroke-linejoin="round" stroke-linecap="butt"/>
<path d="M866,1421 L868.65,1427.36 L875.51,1427.91 L870.28,1432.39 L871.88,1439.09 L866,1435.5 L860.12,1439.09 L861.72,1432.39 L856.49,1427.91 L863.35,1427.36Z" fill="#979712" stroke="#979712" stroke-width="1.3"/>
<line x1="814.3" y1="1222.5" x2="861.6" y2="1190.1" stroke="#5f5f00" stroke-width="6.5" stroke-linecap="butt"/>
<line x1="790" y1="1495" x2="864.4" y2="1439.4" stroke="#5f5f00" stroke-width="6.5" stroke-linecap="butt"/>
</g>
<g clip-path="url(#c00)">
<text transform="translate(180.4 254.7) rotate(-36.4) scale(1 1.04)" font-size="31" fill="#aaaaaa" text-anchor="start" font-weight="bold">50 mV dec<tspan font-size="21.7" dy="-12.4">-1</tspan></text>
</g>
<g clip-path="url(#c00)">
<text transform="translate(245.7 295) rotate(-38.4) scale(1 1.04)" font-size="31" fill="#4a4a4a" text-anchor="start" font-weight="bold">47 mV dec<tspan font-size="21.7" dy="-12.4">-1</tspan></text>
</g>
<g clip-path="url(#c01)">
<text transform="translate(478.5 243.4) rotate(-51.3) scale(1 1.04)" font-size="31" fill="#f49c9c" text-anchor="start" font-weight="bold">68 mV dec<tspan font-size="21.7" dy="-12.4">-1</tspan></text>
</g>
<g clip-path="url(#c01)">
<text transform="translate(495.9 406) rotate(-29.7) scale(1 1.04)" font-size="31" fill="#ee4242" text-anchor="start" font-weight="bold">33 mV dec<tspan font-size="21.7" dy="-12.4">-1</tspan></text>
</g>
<g clip-path="url(#c02)">
<text transform="translate(715.7 250.9) rotate(-49.2) scale(1 1.04)" font-size="31" fill="#8cb5ee" text-anchor="start" font-weight="bold">68 mV dec<tspan font-size="21.7" dy="-12.4">-1</tspan></text>
</g>
<g clip-path="url(#c02)">
<text transform="translate(729.6 350.7) rotate(-30.3) scale(1 1.04)" font-size="31" fill="#1f6fde" text-anchor="start" font-weight="bold">35 mV dec<tspan font-size="21.7" dy="-12.4">-1</tspan></text>
</g>
<g clip-path="url(#c10)">
<text transform="translate(227.2 780.7) rotate(-37.9) scale(1 1.04)" font-size="31" fill="#98dcb8" text-anchor="start" font-weight="bold">77 mV dec<tspan font-size="21.7" dy="-12.4">-1</tspan></text>
</g>
<g clip-path="url(#c10)">
<text transform="translate(235.8 954) rotate(-20.7) scale(1 1.04)" font-size="31" fill="#3aae6c" text-anchor="start" font-weight="bold">37 mV dec<tspan font-size="21.7" dy="-12.4">-1</tspan></text>
</g>
<g clip-path="url(#c11)">
<text transform="translate(465.2 779) rotate(-40) scale(1 1.04)" font-size="31" fill="#d6b3ee" text-anchor="start" font-weight="bold">80 mV dec<tspan font-size="21.7" dy="-12.4">-1</tspan></text>
</g>
<g clip-path="url(#c11)">
<text transform="translate(468.5 944.3) rotate(-19.1) scale(1 1.04)" font-size="31" fill="#b07ddf" text-anchor="start" font-weight="bold">34 mV dec<tspan font-size="21.7" dy="-12.4">-1</tspan></text>
</g>
<g clip-path="url(#c12)">
<text transform="translate(709.8 818.9) rotate(-52.4) scale(1 1.04)" font-size="31" fill="#ffd970" text-anchor="start" font-weight="bold">133 mV dec<tspan font-size="21.7" dy="-12.4">-1</tspan></text>
</g>
<g clip-path="url(#c12)">
<text transform="translate(702.4 940.7) rotate(-24.5) scale(1 1.04)" font-size="31" fill="#d19e0c" text-anchor="start" font-weight="bold">47 mV dec<tspan font-size="21.7" dy="-12.4">-1</tspan></text>
</g>
<g clip-path="url(#c20)">
<text transform="translate(261.9 1327.5) rotate(-43.9) scale(1 1.04)" font-size="31" fill="#b4e4ea" text-anchor="start" font-weight="bold">167 mV dec<tspan font-size="21.7" dy="-12.4">-1</tspan></text>
</g>
<g clip-path="url(#c20)">
<text transform="translate(201.2 1465.7) rotate(-18.1) scale(1 1.04)" font-size="31" fill="#00c9cb" text-anchor="start" font-weight="bold">50 mV dec<tspan font-size="21.7" dy="-12.4">-1</tspan></text>
</g>
<g clip-path="url(#c21)">
<text transform="translate(469.9 1374.6) rotate(-43.3) scale(1 1.04)" font-size="31" fill="#c9a1a1" text-anchor="start" font-weight="bold">174 mV dec<tspan font-size="21.7" dy="-12.4">-1</tspan></text>
</g>
<g clip-path="url(#c21)">
<text transform="translate(472.6 1515.6) rotate(-31.7) scale(1 1.04)" font-size="31" fill="#7c4c4c" text-anchor="start" font-weight="bold">106 mV dec<tspan font-size="21.7" dy="-12.4">-1</tspan></text>
</g>
<g clip-path="url(#c22)">
<text transform="translate(676.9 1338.1) rotate(-43.3) scale(1 1.04)" font-size="31" fill="#a9b089" text-anchor="start" font-weight="bold">119 mV dec<tspan font-size="21.7" dy="-12.4">-1</tspan></text>
</g>
<g clip-path="url(#c22)">
<text transform="translate(746.6 1472.2) rotate(-39.3) scale(1 1.04)" font-size="31" fill="#8f8f00" text-anchor="start" font-weight="bold">118 mV dec<tspan font-size="21.7" dy="-12.4">-1</tspan></text>
</g>
<rect x="191.4" y="16.5" width="14" height="14" fill="#fff" stroke="#9a9a9a" stroke-width="1.5"/>
<rect x="191.4" y="53.3" width="14" height="14" fill="#a0a0a0" stroke="#a0a0a0" stroke-width="1.5"/>
<text transform="translate(230.9 33.3) scale(1 1.04)" font-size="29.8" fill="#000" text-anchor="start" font-weight="bold">Fe</text>
<text transform="translate(230.9 69.7) scale(1 1.04)" font-size="29.8" fill="#000" text-anchor="start" font-weight="bold">FeO<tspan font-size="19.37" dy="7.75">x</tspan><tspan dy="-7.75">H</tspan><tspan font-size="19.37" dy="7.75">y</tspan><tspan dy="-7.75">-Fe</tspan></text>
<circle cx="449.8" cy="24.9" r="7.2" fill="#fff" stroke="#f08a8a" stroke-width="1.5"/>
<circle cx="449.8" cy="61.5" r="8.2" fill="#f5a0a0" stroke="#f5a0a0" stroke-width="1.5"/>
<text transform="translate(482.2 34.1) scale(1 1.04)" font-size="29.8" fill="#000" text-anchor="start" font-weight="bold">Ni</text>
<text transform="translate(482.2 70.2) scale(1 1.04)" font-size="29.8" fill="#000" text-anchor="start" font-weight="bold">FeO<tspan font-size="19.37" dy="7.75">x</tspan><tspan dy="-7.75">H</tspan><tspan font-size="19.37" dy="7.75">y</tspan><tspan dy="-7.75">-Ni</tspan></text>
<path d="M683.6,15.55 L674.6,31.14 L692.6,31.14Z" fill="#fff" stroke="#6a9ee8" stroke-width="1.5"/>
<path d="M683.6,49.91 L673.6,67.23 L693.6,67.23Z" fill="#8ab4ee" stroke="#8ab4ee" stroke-width="1.5"/>
<text transform="translate(715.2 34.1) scale(1 1.04)" font-size="29.8" fill="#000" text-anchor="start" font-weight="bold">Co</text>
<text transform="translate(715.2 70.2) scale(1 1.04)" font-size="29.8" fill="#000" text-anchor="start" font-weight="bold">FeO<tspan font-size="19.37" dy="7.75">x</tspan><tspan dy="-7.75">H</tspan><tspan font-size="19.37" dy="7.75">y</tspan><tspan dy="-7.75">-Co</tspan></text>
<path d="M198.6,584.75 L189.6,569.16 L207.6,569.16Z" fill="#fff" stroke="#6cc592" stroke-width="1.5"/>
<path d="M198.6,621.89 L188.6,604.57 L208.6,604.57Z" fill="#90d8b0" stroke="#90d8b0" stroke-width="1.5"/>
<text transform="translate(231.4 582.9) scale(1 1.04)" font-size="29.8" fill="#000" text-anchor="start" font-weight="bold">Ag</text>
<text transform="translate(231.4 619) scale(1 1.04)" font-size="29.8" fill="#000" text-anchor="start" font-weight="bold">FeO<tspan font-size="19.37" dy="7.75">x</tspan><tspan dy="-7.75">H</tspan><tspan font-size="19.37" dy="7.75">y</tspan><tspan dy="-7.75">-Ag</tspan></text>
<path d="M439.8,563.4 L449.8,573.4 L439.8,583.4 L429.8,573.4Z" fill="#fff" stroke="#c8a8ec" stroke-width="1.5"/>
<path d="M439.8,600.3 L449.8,610.3 L439.8,620.3 L429.8,610.3Z" fill="#d4b8ee" stroke="#d4b8ee" stroke-width="1.5"/>
<text transform="translate(472.7 582.9) scale(1 1.04)" font-size="29.8" fill="#000" text-anchor="start" font-weight="bold">Cu</text>
<text transform="translate(472.7 619) scale(1 1.04)" font-size="29.8" fill="#000" text-anchor="start" font-weight="bold">FeO<tspan font-size="19.37" dy="7.75">x</tspan><tspan dy="-7.75">H</tspan><tspan font-size="19.37" dy="7.75">y</tspan><tspan dy="-7.75">-Cu</tspan></text>
<path d="M669.25,573.4 L684.84,564.4 L684.84,582.4Z" fill="#fff" stroke="#e8d090" stroke-width="1.5"/>
<path d="M668.21,610.3 L685.53,600.3 L685.53,620.3Z" fill="#e8cc80" stroke="#e8cc80" stroke-width="1.5"/>
<text transform="translate(713.9 582.9) scale(1 1.04)" font-size="29.8" fill="#000" text-anchor="start" font-weight="bold">Au</text>
<text transform="translate(713.9 619) scale(1 1.04)" font-size="29.8" fill="#000" text-anchor="start" font-weight="bold">FeO<tspan font-size="19.37" dy="7.75">x</tspan><tspan dy="-7.75">H</tspan><tspan font-size="19.37" dy="7.75">y</tspan><tspan dy="-7.75">-Au</tspan></text>
<path d="M209.65,1123.4 L194.06,1114.4 L194.06,1132.4Z" fill="#fff" stroke="#40d0d0" stroke-width="1.5"/>
<path d="M210.69,1160.3 L193.37,1150.3 L193.37,1170.3Z" fill="#70dede" stroke="#70dede" stroke-width="1.5"/>
<text transform="translate(231.4 1132.9) scale(1 1.04)" font-size="29.8" fill="#000" text-anchor="start" font-weight="bold">Ti</text>
<text transform="translate(231.4 1169) scale(1 1.04)" font-size="29.8" fill="#000" text-anchor="start" font-weight="bold">FeO<tspan font-size="19.37" dy="7.75">x</tspan><tspan dy="-7.75">H</tspan><tspan font-size="19.37" dy="7.75">y</tspan><tspan dy="-7.75">-Ti</tspan></text>
<path d="M456.23,1134.9 L449.3,1138.9 L442.37,1134.9 L442.37,1126.9 L449.3,1122.9 L456.23,1126.9Z" fill="#fff" stroke="#c0a0a0" stroke-width="1.5"/>
<path d="M449.3,1157.7 L459.3,1167.7 L449.3,1177.7 L439.3,1167.7Z" fill="#c0a0a0" stroke="#c0a0a0" stroke-width="1.5"/>
<text transform="translate(482.2 1140.4) scale(1 1.04)" font-size="29.8" fill="#000" text-anchor="start" font-weight="bold">Sn</text>
<text transform="translate(482.2 1176.5) scale(1 1.04)" font-size="29.8" fill="#000" text-anchor="start" font-weight="bold">FeO<tspan font-size="19.37" dy="7.75">x</tspan><tspan dy="-7.75">H</tspan><tspan font-size="19.37" dy="7.75">y</tspan><tspan dy="-7.75">-Sn</tspan></text>
<path d="M681.1,1114.4 L683.48,1120.12 L689.66,1120.62 L684.95,1124.65 L686.39,1130.68 L681.1,1127.45 L675.81,1130.68 L677.25,1124.65 L672.54,1120.62 L678.72,1120.12Z" fill="#fff" stroke="#c0c070" stroke-width="1.3"/>
<path d="M681.1,1151.3 L683.48,1157.02 L689.66,1157.52 L684.95,1161.55 L686.39,1167.58 L681.1,1164.35 L675.81,1167.58 L677.25,1161.55 L672.54,1157.52 L678.72,1157.02Z" fill="#c8c880" stroke="#c8c880" stroke-width="1.3"/>
<text transform="translate(713.9 1132.9) scale(1 1.04)" font-size="29.8" fill="#000" text-anchor="start" font-weight="bold">Nb</text>
<text transform="translate(713.9 1169) scale(1 1.04)" font-size="29.8" fill="#000" text-anchor="start" font-weight="bold">FeO<tspan font-size="19.37" dy="7.75">x</tspan><tspan dy="-7.75">H</tspan><tspan font-size="19.37" dy="7.75">y</tspan><tspan dy="-7.75">-Nb</tspan></text>
<ellipse cx="1314.3" cy="91" rx="95.2" ry="45.4" fill="#b8b8b8"/>
<rect x="1143.5" y="438.5" width="47.3" height="40.7" fill="#c8c8c8"/>
<ellipse cx="1443" cy="577" rx="228.8" ry="47" fill="#f9c89b" stroke="#707070" stroke-width="0.8"/>
<circle cx="1656.8" cy="440.7" r="33.3" fill="#cce0f0" stroke="#909090" stroke-width="0.8"/>
<ellipse cx="0" cy="0" rx="186" ry="55" transform="translate(1850.2 270.3) rotate(-50.3)" fill="#e6e6e6" stroke="#999" stroke-width="0.8"/>
<rect x="1119.2" y="18" width="878.3" height="641.2" fill="none" stroke="#000" stroke-width="2.4"/>
<path d="M1167.5,659.2v-12M1167.5,18v12M1216.42,659.2v-6M1216.42,18v6M1265.35,659.2v-12M1265.35,18v12M1314.27,659.2v-6M1314.27,18v6M1363.2,659.2v-12M1363.2,18v12M1412.12,659.2v-6M1412.12,18v6M1461.05,659.2v-12M1461.05,18v12M1509.97,659.2v-6M1509.97,18v6M1558.9,659.2v-12M1558.9,18v12M1607.83,659.2v-6M1607.83,18v6M1656.75,659.2v-12M1656.75,18v12M1705.67,659.2v-6M1705.67,18v6M1754.6,659.2v-12M1754.6,18v12M1803.52,659.2v-6M1803.52,18v6M1852.45,659.2v-12M1852.45,18v12M1901.37,659.2v-6M1901.37,18v6M1950.3,659.2v-12M1950.3,18v12M1119.2,603.09h12M1997.5,603.09h-12M1119.2,389.36h12M1997.5,389.36h-12M1119.2,264.33h12M1997.5,264.33h-12M1119.2,175.62h12M1997.5,175.62h-12M1119.2,106.82h12M1997.5,106.82h-12M1119.2,50.6h12M1997.5,50.6h-12M1119.2,514.38h6M1997.5,514.38h-6M1119.2,445.57h6M1997.5,445.57h-6M1119.2,341.82h6M1997.5,341.82h-6M1119.2,300.65h6M1997.5,300.65h-6M1119.2,231.84h6M1997.5,231.84h-6M1119.2,202.45h6M1997.5,202.45h-6M1119.2,150.94h6M1997.5,150.94h-6M1119.2,128.09h6M1997.5,128.09h-6M1119.2,86.92h6M1997.5,86.92h-6M1119.2,68.22h6M1997.5,68.22h-6M1119.2,33.93h6M1997.5,33.93h-6" stroke="#000" stroke-width="2.4" fill="none"/>
<text transform="translate(1105.3 614.19) scale(1 1.04)" font-size="36" fill="#000" text-anchor="end" font-weight="bold">30</text>
<text transform="translate(1105.3 400.46) scale(1 1.04)" font-size="36" fill="#000" text-anchor="end" font-weight="bold">60</text>
<text transform="translate(1105.3 275.43) scale(1 1.04)" font-size="36" fill="#000" text-anchor="end" font-weight="bold">90</text>
<text transform="translate(1105.3 186.72) scale(1 1.04)" font-size="36" fill="#000" text-anchor="end" font-weight="bold">120</text>
<text transform="translate(1105.3 117.92) scale(1 1.04)" font-size="36" fill="#000" text-anchor="end" font-weight="bold">150</text>
<text transform="translate(1105.3 61.7) scale(1 1.04)" font-size="36" fill="#000" text-anchor="end" font-weight="bold">180</text>
<text transform="translate(1167.8 700.8) scale(1 1.04)" font-size="36" fill="#000" text-anchor="middle" font-weight="bold">Fe</text>
<text transform="translate(1265.65 700.8) scale(1 1.04)" font-size="36" fill="#000" text-anchor="middle" font-weight="bold">Ni</text>
<text transform="translate(1363.5 700.8) scale(1 1.04)" font-size="36" fill="#000" text-anchor="middle" font-weight="bold">Co</text>
<text transform="translate(1461.35 700.8) scale(1 1.04)" font-size="36" fill="#000" text-anchor="middle" font-weight="bold">Ag</text>
<text transform="translate(1559.2 700.8) scale(1 1.04)" font-size="36" fill="#000" text-anchor="middle" font-weight="bold">Cu</text>
<text transform="translate(1657.05 700.8) scale(1 1.04)" font-size="36" fill="#000" text-anchor="middle" font-weight="bold">Au</text>
<text transform="translate(1754.9 700.8) scale(1 1.04)" font-size="36" fill="#000" text-anchor="middle" font-weight="bold">Ti</text>
<text transform="translate(1852.75 700.8) scale(1 1.04)" font-size="36" fill="#000" text-anchor="middle" font-weight="bold">Sn</text>
<text transform="translate(1950.6 700.8) scale(1 1.04)" font-size="36" fill="#000" text-anchor="middle" font-weight="bold">Nb</text>
<text transform="translate(1559.3 778.8) scale(1 1.04)" font-size="54" fill="#000" text-anchor="middle" font-weight="bold">Metal foils</text>
<text transform="translate(1023.5 554.7) rotate(-90) scale(1 1.04)" font-size="42.2" fill="#000" text-anchor="start" font-weight="bold">Tafel slope (mV dec<tspan font-size="28" dy="-17">-1</tspan><tspan dy="17">)</tspan></text>
<path d="M1265.9,60.4V118M1259.9,60.4h12M1259.9,118h12" stroke="#555" stroke-width="1.6" fill="none"/>
<rect x="1256.7" y="78.8" width="18.4" height="18.4" fill="#505050"/>
<rect x="1354.7" y="107.1" width="18.4" height="18.4" fill="#505050"/>
<text transform="translate(1176 169.3) scale(1 1.04)" font-size="36.5" fill="#000" text-anchor="start" font-weight="normal">Foam</text>
<path d="M1167.5,453V469M1161.5,453h12M1161.5,469h12" stroke="#555" stroke-width="1.6" fill="none"/>
<rect x="1160.5" y="454.3" width="14" height="14" fill="#fff" stroke="#505050" stroke-width="3.2" rx="1"/>
<path d="M1265.35,355V435.8M1259.35,355h12M1259.35,435.8h12" stroke="#555" stroke-width="1.6" fill="none"/>
<rect x="1258.35" y="385.6" width="14" height="14" fill="#fff" stroke="#505050" stroke-width="3.4" rx="1"/>
<path d="M1363.2,368.7V407.2M1357.2,368.7h12M1357.2,407.2h12" stroke="#555" stroke-width="1.6" fill="none"/>
<rect x="1356.2" y="380.7" width="14" height="14" fill="#fff" stroke="#505050" stroke-width="3.4" rx="1"/>
<path d="M1461.05,229.7V391.9M1455.05,229.7h12M1455.05,391.9h12" stroke="#555" stroke-width="1.6" fill="none"/>
<rect x="1454.05" y="293.3" width="14" height="14" fill="#fff" stroke="#505050" stroke-width="3.4" rx="1"/>
<path d="M1558.9,252.3V303.3M1552.9,252.3h12M1552.9,303.3h12" stroke="#555" stroke-width="1.6" fill="none"/>
<rect x="1551.9" y="269.3" width="14" height="14" fill="#fff" stroke="#505050" stroke-width="3.4" rx="1"/>
<path d="M1656.75,120.1V189.2M1650.75,120.1h12M1650.75,189.2h12" stroke="#555" stroke-width="1.6" fill="none"/>
<rect x="1649.75" y="146.2" width="14" height="14" fill="#fff" stroke="#505050" stroke-width="3.4" rx="1"/>
<path d="M1754.6,32.1V96.1M1748.6,32.1h12M1748.6,96.1h12" stroke="#555" stroke-width="1.6" fill="none"/>
<rect x="1747.6" y="55.5" width="14" height="14" fill="#fff" stroke="#505050" stroke-width="3.4" rx="1"/>
<rect x="1845.45" y="59.7" width="14" height="14" fill="#fff" stroke="#505050" stroke-width="3.4" rx="1"/>
<path d="M1950.3,55V111.7M1944.3,55h12M1944.3,111.7h12" stroke="#555" stroke-width="1.6" fill="none"/>
<rect x="1943.3" y="74.7" width="14" height="14" fill="#fff" stroke="#505050" stroke-width="3.4" rx="1"/>
<path d="M1167.5,441.3V475.1M1161.3,441.3h12.4M1161.3,475.1h12.4" stroke="#ee4242" stroke-width="1.6" fill="none"/>
<circle cx="1167.5" cy="458" r="7.1" fill="#fff" stroke="#ee4242" stroke-width="5.5"/>
<path d="M1265.35,575V584M1259.15,575h12.4M1259.15,584h12.4" stroke="#ee4242" stroke-width="1.6" fill="none"/>
<circle cx="1265.35" cy="579.5" r="10.3" fill="#fff" stroke="#ee4242" stroke-width="5.4"/>
<path d="M1363.2,557.5V596.8M1357,557.5h12.4M1357,596.8h12.4" stroke="#ee4242" stroke-width="1.6" fill="none"/>
<circle cx="1363.2" cy="576.8" r="10.3" fill="#fff" stroke="#ee4242" stroke-width="5.4"/>
<path d="M1461.05,541.6V594.7M1454.85,541.6h12.4M1454.85,594.7h12.4" stroke="#ee4242" stroke-width="1.6" fill="none"/>
<circle cx="1461.05" cy="566.8" r="10.3" fill="#fff" stroke="#ee4242" stroke-width="5.4"/>
<circle cx="1558.9" cy="555.7" r="10.3" fill="#fff" stroke="#ee4242" stroke-width="5.4"/>
<path d="M1656.75,419V461.1M1650.55,419h12.4M1650.55,461.1h12.4" stroke="#ee4242" stroke-width="1.6" fill="none"/>
<circle cx="1656.75" cy="439.2" r="7.1" fill="#fff" stroke="#ee4242" stroke-width="5.5"/>
<path d="M1754.6,304.8V414.7M1748.4,304.8h12.4M1748.4,414.7h12.4" stroke="#ee4242" stroke-width="1.6" fill="none"/>
<circle cx="1754.6" cy="355" r="7.1" fill="#fff" stroke="#ee4242" stroke-width="5.5"/>
<path d="M1852.45,186.8V218.5M1846.25,186.8h12.4M1846.25,218.5h12.4" stroke="#ee4242" stroke-width="1.6" fill="none"/>
<circle cx="1852.45" cy="202.2" r="7.1" fill="#fff" stroke="#ee4242" stroke-width="5.5"/>
<path d="M1950.3,126.2V187.9M1944.1,126.2h12.4M1944.1,187.9h12.4" stroke="#ee4242" stroke-width="1.6" fill="none"/>
<circle cx="1950.3" cy="155.5" r="7.1" fill="#fff" stroke="#ee4242" stroke-width="5.5"/>
<text transform="translate(1674 497.7) scale(1 1.04)" font-size="37" fill="#000" text-anchor="start" font-weight="normal">-OOH</text>
<text transform="translate(1579.3 588.7) scale(1 1.04)" font-size="36.8" fill="#000" text-anchor="start" font-weight="normal">-OO</text>
<text transform="translate(1870.8 297) rotate(-49) scale(1 1.04)" font-size="36.8" fill="#000" text-anchor="middle" font-weight="normal">No -OOH/-OO</text>
<rect x="1755.3" y="561.9" width="13.2" height="13.2" fill="#fff" stroke="#505050" stroke-width="4.3" rx="1.5"/>
<circle cx="1761.9" cy="614.1" r="8.1" fill="#fff" stroke="#ee4242" stroke-width="4.5"/>
<text transform="translate(1812.2 581.2) scale(1 1.04)" font-size="36.6" fill="#000" text-anchor="start" font-weight="bold">M</text>
<text transform="translate(1812.2 626.8) scale(1 1.04)" font-size="36.6" fill="#000" text-anchor="start" font-weight="bold">FeO<tspan font-size="23.79" dy="9.52">x</tspan><tspan dy="-9.52">H</tspan><tspan font-size="23.79" dy="9.52">y</tspan><tspan dy="-9.52">-M</tspan></text>
<ellipse cx="0" cy="0" rx="229" ry="35.6" transform="translate(1429.4 1090) rotate(-38.5)" fill="#c4c4c4"/>
<ellipse cx="0" cy="0" rx="219" ry="34.4" transform="translate(1435.7 1233.5) rotate(-32.5)" fill="#f9c89b"/>
<clipPath id="ce"><rect x="1090.6" y="797" width="905.9" height="663.3"/></clipPath>
<line x1="1090.25" y1="1460.8" x2="2005.93" y2="789.16" stroke="#ec4141" stroke-width="4.6" clip-path="url(#ce)"/>
<rect x="1090.6" y="797" width="905.9" height="663.3" fill="none" stroke="#000" stroke-width="2.4"/>
<path d="M1195.5,1460.3v-12M1195.5,797v12M1406,1460.3v-12M1406,797v12M1616.5,1460.3v-12M1616.5,797v12M1827,1460.3v-12M1827,797v12M1300.75,1460.3v-6M1300.75,797v6M1511.25,1460.3v-6M1511.25,797v6M1721.75,1460.3v-6M1721.75,797v6M1932.25,1460.3v-6M1932.25,797v6M1090.6,1383.6h12M1996.5,1383.6h-12M1090.6,1229.2h12M1996.5,1229.2h-12M1090.6,1074.8h12M1996.5,1074.8h-12M1090.6,920.4h12M1996.5,920.4h-12M1090.6,1306.4h6M1996.5,1306.4h-6M1090.6,1152h6M1996.5,1152h-6M1090.6,997.6h6M1996.5,997.6h-6M1090.6,843.2h6M1996.5,843.2h-6" stroke="#000" stroke-width="2.4" fill="none"/>
<text transform="translate(1076.5 1395.8) scale(1 1.04)" font-size="40.5" fill="#000" text-anchor="end" font-weight="bold">1.4</text>
<text transform="translate(1196.5 1506) scale(1 1.04)" font-size="40.5" fill="#000" text-anchor="middle" font-weight="bold">1.4</text>
<text transform="translate(1076.5 1241.4) scale(1 1.04)" font-size="40.5" fill="#000" text-anchor="end" font-weight="bold">1.5</text>
<text transform="translate(1407 1506) scale(1 1.04)" font-size="40.5" fill="#000" text-anchor="middle" font-weight="bold">1.5</text>
<text transform="translate(1076.5 1087) scale(1 1.04)" font-size="40.5" fill="#000" text-anchor="end" font-weight="bold">1.6</text>
<text transform="translate(1617.5 1506) scale(1 1.04)" font-size="40.5" fill="#000" text-anchor="middle" font-weight="bold">1.6</text>
<text transform="translate(1076.5 932.6) scale(1 1.04)" font-size="40.5" fill="#000" text-anchor="end" font-weight="bold">1.7</text>
<text transform="translate(1828 1506) scale(1 1.04)" font-size="40.5" fill="#000" text-anchor="middle" font-weight="bold">1.7</text>
<text transform="translate(1271.5 1578.3) scale(1 1.04)" font-size="46.7" fill="#000" text-anchor="start" font-weight="bold">[O] Potential vs. RHE (V)</text>
<text transform="translate(1002.7 1273.6) rotate(-90) scale(1 1.04)" font-size="46.8" fill="#000" text-anchor="start" font-weight="bold">Onset vs. RHE</text>
<rect x="1151.2" y="834.6" width="15.6" height="15.6" fill="#fff" stroke="#555" stroke-width="2.4"/>
<rect x="1149.7" y="884.8" width="18.4" height="18.2" fill="#ee4040"/>
<text transform="translate(1216.1 856.4) scale(1 1.04)" font-size="41" fill="#000" text-anchor="start" font-weight="bold">M</text>
<text transform="translate(1216.1 908.4) scale(1 1.04)" font-size="41" fill="#000" text-anchor="start" font-weight="bold">FeO<tspan font-size="26.65" dy="10.66">x</tspan><tspan dy="-10.66">H</tspan><tspan font-size="26.65" dy="10.66">y</tspan><tspan dy="-10.66">-M</tspan></text>
<text transform="translate(1224.5 1040) scale(1 1.04)" font-size="40.7" fill="#000" text-anchor="start" font-weight="bold">FeO<tspan font-size="26.46" dy="10.58">x</tspan><tspan dy="-10.58">H</tspan><tspan font-size="26.46" dy="10.58">y</tspan></text>
<text transform="translate(1131.4 1089) scale(1 1.04)" font-size="40.7" fill="#000" text-anchor="start" font-weight="bold">promoting effect</text>
<text transform="translate(1824.5 895) rotate(-37) scale(1 1.04)" font-size="31" fill="#000" text-anchor="start" font-weight="bold">Slope = 1</text>
<text transform="translate(1623.9 1178.2) scale(1 1.04)" font-size="38.5" fill="#000" text-anchor="start" font-weight="bold">Cu</text>
<text transform="translate(1529 1246.3) scale(1 1.04)" font-size="38.5" fill="#000" text-anchor="start" font-weight="bold">Ag</text>
<text transform="translate(1335.5 1332) scale(1 1.04)" font-size="38.5" fill="#000" text-anchor="start" font-weight="bold">Co</text>
<text transform="translate(1228.6 1407.5) scale(1 1.04)" font-size="38.5" fill="#000" text-anchor="start" font-weight="bold">Ni</text>
<text transform="translate(1866.7 987.3) scale(1 1.04)" font-size="38.5" fill="#000" text-anchor="start" font-weight="bold">Au</text>
<defs><linearGradient id="ag" x1="0" y1="0" x2="0" y2="1"><stop offset="0" stop-color="#6a6a6a"/><stop offset="0.2" stop-color="#333"/><stop offset="0.55" stop-color="#7a3d12"/><stop offset="1" stop-color="#e8aa78"/></linearGradient></defs>
<path d="M1421.3,1115 L1433,1127 L1444.8,1115 L1444.8,1160 L1456.3,1160 L1433,1182.5 L1410,1160 L1421.3,1160 Z" fill="url(#ag)"/>
<path d="M1268,1228.75H1281M1268,1223.75v10M1281,1223.75v10" stroke="#888" stroke-width="1.3" fill="none"/>
<rect x="1265.9" y="1220.4" width="16.7" height="16.7" fill="#fff" stroke="#555" stroke-width="2.6"/>
<path d="M1278.75,1169.5H1321.25M1278.75,1164.5v10M1321.25,1164.5v10" stroke="#777" stroke-width="1.3" fill="none"/>
<circle cx="1299.5" cy="1169.5" r="8.6" fill="#fff" stroke="#555" stroke-width="2.6"/>
<path d="M1485,1013.75H1527.5M1485,1008.75v10M1527.5,1008.75v10" stroke="#777" stroke-width="1.3" fill="none"/>
<path d="M1506.25,1004 L1517.5,1023 L1495,1023 Z" fill="#fff" stroke="#555" stroke-width="2.6" stroke-linejoin="round"/>
<path d="M1579,973.75H1602M1579,968.75v10M1602,968.75v10" stroke="#888" stroke-width="1.3" fill="none"/>
<path d="M1590.75,984 L1602,965 L1579.5,965 Z" fill="#fff" stroke="#555" stroke-width="2.6" stroke-linejoin="round"/>
<path d="M1758.9,934.7H1969M1758.9,929.7v10M1969,929.7v10" stroke="#888" stroke-width="1.3" fill="none"/>
<path d="M1864,924 L1875,934.7 L1864,945.4 L1853,934.7 Z" fill="#fff" stroke="#555" stroke-width="2.4"/>
<path d="M1268,1349.8H1281M1268,1344.8v10M1281,1344.8v10" stroke="#f08080" stroke-width="1.3" fill="none"/>
<rect x="1264.6" y="1340.6" width="18.4" height="18.4" fill="#ee4040"/>
<path d="M1278.75,1280.5H1321.25M1278.75,1275.5v10M1321.25,1275.5v10" stroke="#f08080" stroke-width="1.3" fill="none"/>
<circle cx="1299.5" cy="1280.5" r="10" fill="#ee4040"/>
<path d="M1485,1191.25H1527.5M1485,1186.25v10M1527.5,1186.25v10" stroke="#f08080" stroke-width="1.3" fill="none"/>
<path d="M1506.25,1179 L1518.5,1201 L1494,1201 Z" fill="#ee4040" stroke="#ee4040" stroke-width="3" stroke-linejoin="round"/>
<path d="M1579,1152.5H1602M1579,1147.5v10M1602,1147.5v10" stroke="#f08080" stroke-width="1.3" fill="none"/>
<path d="M1590.75,1165 L1603,1143 L1578.5,1143 Z" fill="#ee4040" stroke="#ee4040" stroke-width="3" stroke-linejoin="round"/>
<path d="M1758.9,1117.8H1969M1758.9,1112.8v10M1969,1112.8v10" stroke="#f08080" stroke-width="1.3" fill="none"/>
<path d="M1864,1106 L1876,1117.8 L1864,1129.6 L1852,1117.8 Z" fill="#ee4040" stroke="#ee4040" stroke-width="2.5" stroke-linejoin="round"/>
</svg></body></html>
